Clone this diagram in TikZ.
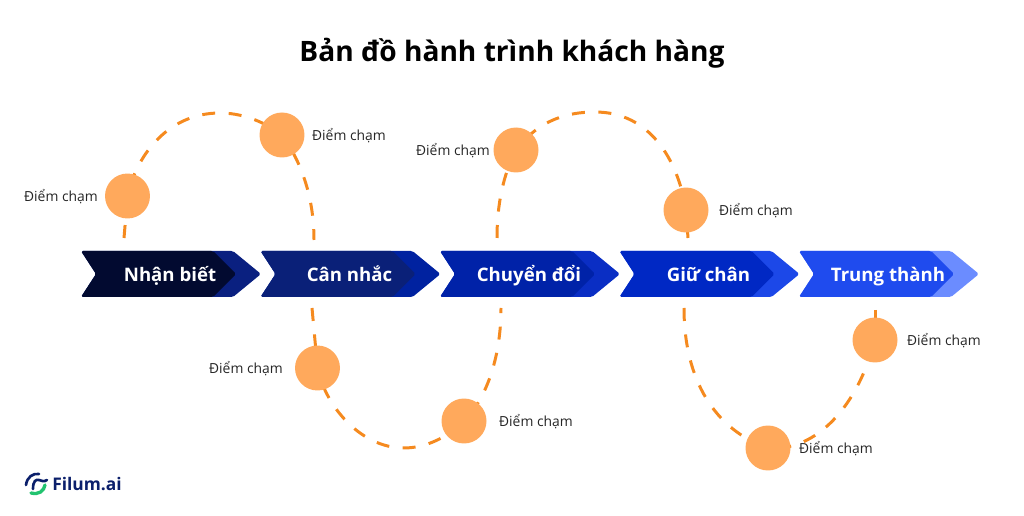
\documentclass[tikz,border=0pt]{standalone}
\usepackage{fontspec}
\setmainfont{Open Sans}
\usetikzlibrary{positioning,backgrounds}
\definecolor{Stroke}{HTML}{F58A1F}
\definecolor{Dot}{HTML}{FFA95C}
\definecolor{Navy}{HTML}{0B1F6B}
\definecolor{Leaf}{HTML}{22C36F}
\definecolor{InA}{HTML}{020A30}
\definecolor{OutA}{HTML}{0A2080}
\definecolor{InB}{HTML}{0A2078}
\definecolor{OutB}{HTML}{0022A0}
\definecolor{InC}{HTML}{0022A8}
\definecolor{OutC}{HTML}{0A2EC4}
\definecolor{InD}{HTML}{0028C4}
\definecolor{OutD}{HTML}{1C48E8}
\definecolor{InE}{HTML}{1F4BEE}
\definecolor{OutE}{HTML}{6B8CFF}

\begin{document}
\begin{tikzpicture}[
		x=.02cm, y=-.02cm,
		stagetext/.style={text=white, font=\fontsize{10.6}{12}\selectfont\bfseries, inner sep=0pt, text height=7.5pt, text depth=2pt},
		touch/.style={circle, fill=Dot, minimum size=.9cm, inner sep=0pt},
		touchtext/.style={text=black!85, font=\fontsize{7.9}{10}\selectfont, inner sep=0pt, text height=5.5pt, text depth=1.5pt},
		journey/.style={draw=Stroke, line width=1.7pt, dash pattern=on .26cm off .27cm}
		]
		\useasboundingbox (0,0) rectangle (1024,516);

		\node[font=\fontsize{16}{20}\selectfont\bfseries, inner sep=0pt] (title) at (512,53.5) {Bản đồ hành trình khách hàng};

		\foreach \nm/\xx/\cin/\cout/\txt in {
			A/81/InA/OutA/Nhận biết,
			B/260.5/InB/OutB/Cân nhắc,
			C/440/InC/OutC/Chuyển đổi,
			D/619.5/InD/OutD/Giữ chân,
			E/799/InE/OutE/Trung thành}{
			\fill[\cout, rounded corners=1pt] (\xx,251) -- +(152,0) -- +(180,23) -- +(152,46) -- +(0,46) -- +(15,23) -- cycle;
			\fill[\cin, rounded corners=1pt] (\xx,251) -- +(132,0) -- +(155,23) -- +(132,46) -- +(0,46) -- +(15,23) -- cycle;
			\node[stagetext] (lab\nm) at (\xx+89,276.5) {\txt};
		}

		\node[touch] (d1) at (127.5,196) {};
		\node[touch] (d2) at (282,135) {};
		\node[touch] (d3) at (317.5,368) {};
		\node[touch] (d4) at (464,421) {};
		\node[touch] (d5) at (516,150) {};
		\node[touch] (d6) at (686,210) {};
		\node[touch] (d7) at (768,448) {};
		\node[touch] (d8) at (875,340) {};

		\node[touchtext] (t1) at (61,197.5) {Điểm chạm};
		\node[touchtext] (t2) at (349,136.5) {Điểm chạm};
		\node[touchtext] (t3) at (246,369.5) {Điểm chạm};
		\node[touchtext] (t4) at (536,422.5) {Điểm chạm};
		\node[touchtext] (t5) at (453,151.5) {Điểm chạm};
		\node[touchtext] (t6) at (756,211.5) {Điểm chạm};
		\node[touchtext] (t7) at (836,449.5) {Điểm chạm};
		\node[touchtext] (t8) at (944,341.5) {Điểm chạm};

		\coordinate (a1) at (124,238);
		\coordinate (a2) at (314,240);
		\coordinate (a3) at (312,308);
		\coordinate (a4) at (501,308);
		\coordinate (a5) at (497,238);
		\coordinate (a6) at (688,238);
		\coordinate (a7) at (684,308);
		\coordinate (a8) at (875,310);
		\coordinate (top1) at (220,113);
		\coordinate (low1) at (404,448);
		\coordinate (top2) at (595,112);

		\begin{scope}[on background layer]
			\draw[journey] (a1) -- (d1.center) .. controls (135,160) and (165,113) .. (top1) .. controls (240,113) and (262,120) .. (d2.center) .. controls (300,160) and (314,195) .. (a2);
			\draw[journey] (a3) -- (d3.center) .. controls (325,405) and (360,448) .. (low1) .. controls (425,448) and (447,438) .. (d4.center) .. controls (485,400) and (501,360) .. (a4);
			\draw[journey] (a5) .. controls (497,205) and (503,175) .. (d5.center) .. controls (535,125) and (560,112) .. (top2) .. controls (650,112) and (678,160) .. (d6.center) -- (a6);
			\draw[journey] (a7) .. controls (684,380) and (715,430) .. (d7.center) .. controls (810,452) and (855,415) .. (d8.center);
			\draw[journey] (a8) -- (d8.center);
		\end{scope}

		% logo
		\draw[Navy, line width=1.5pt, line cap=round] (26,485) .. controls (27,477) and (33,473) .. (39,474);
		\draw[Navy, line width=1.5pt, line cap=round] (33,489) .. controls (33,481) and (36,479) .. (39,480) .. controls (42,481) and (44,482) .. (47,480);
		\draw[Leaf, line width=1.9pt, line cap=round] (31,493) .. controls (39,495) and (44,491) .. (45,485);
		\node[text=Navy, font=\fontsize{9.9}{13}\selectfont\bfseries, inner sep=0pt] (logo) at (87,484) {Filum.ai};
	\end{tikzpicture}
\end{document}
